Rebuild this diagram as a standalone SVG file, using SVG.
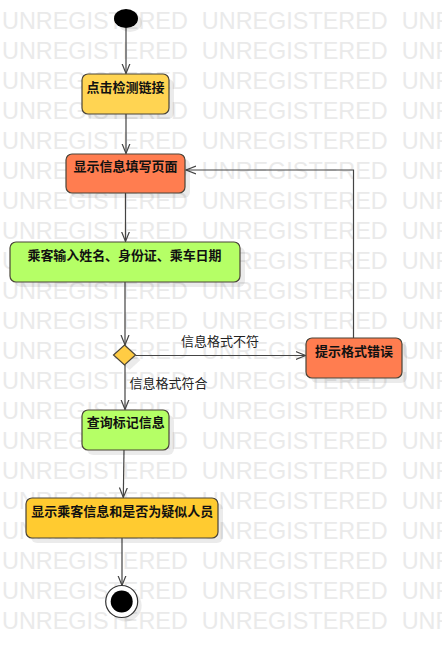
<svg xmlns="http://www.w3.org/2000/svg" width="442" height="658" viewBox="0 0 442 658">
<defs>
<style>
.wm{font-family:"Liberation Sans",Arial,sans-serif;font-size:23.4px;fill:#eaeaea;word-spacing:7.5px}
.node{stroke:#4a4438;stroke-width:1.2}
.shadow{fill:#000;opacity:0.08}
.t{font-family:"Noto Sans CJK SC","Noto Sans",sans-serif;font-size:13px;font-weight:bold;fill:#111;text-anchor:middle}
.lbl{font-family:"Noto Sans CJK SC","Noto Sans",sans-serif;font-size:13px;fill:#222;text-anchor:middle}
.c{fill:none;stroke:#444;stroke-width:1.2}
</style>
<marker id="arr" markerUnits="userSpaceOnUse" markerWidth="12" markerHeight="10" refX="10" refY="4.5" orient="auto">
<path d="M0,0.5 L10,4.5 L0,8.5" fill="none" stroke="#444" stroke-width="1.2"/>
</marker>
</defs>
<rect width="442" height="658" fill="#fff"/>
<g id="watermark">
<text class="wm" x="2" y="29">UNREGISTERED UNREGISTERED UNREGISTERED</text>
<text class="wm" x="2" y="59">UNREGISTERED UNREGISTERED UNREGISTERED</text>
<text class="wm" x="2" y="89">UNREGISTERED UNREGISTERED UNREGISTERED</text>
<text class="wm" x="2" y="119">UNREGISTERED UNREGISTERED UNREGISTERED</text>
<text class="wm" x="2" y="149">UNREGISTERED UNREGISTERED UNREGISTERED</text>
<text class="wm" x="2" y="179">UNREGISTERED UNREGISTERED UNREGISTERED</text>
<text class="wm" x="2" y="209">UNREGISTERED UNREGISTERED UNREGISTERED</text>
<text class="wm" x="2" y="239">UNREGISTERED UNREGISTERED UNREGISTERED</text>
<text class="wm" x="2" y="269">UNREGISTERED UNREGISTERED UNREGISTERED</text>
<text class="wm" x="2" y="299">UNREGISTERED UNREGISTERED UNREGISTERED</text>
<text class="wm" x="2" y="329">UNREGISTERED UNREGISTERED UNREGISTERED</text>
<text class="wm" x="2" y="359">UNREGISTERED UNREGISTERED UNREGISTERED</text>
<text class="wm" x="2" y="389">UNREGISTERED UNREGISTERED UNREGISTERED</text>
<text class="wm" x="2" y="419">UNREGISTERED UNREGISTERED UNREGISTERED</text>
<text class="wm" x="2" y="449">UNREGISTERED UNREGISTERED UNREGISTERED</text>
<text class="wm" x="2" y="479">UNREGISTERED UNREGISTERED UNREGISTERED</text>
<text class="wm" x="2" y="509">UNREGISTERED UNREGISTERED UNREGISTERED</text>
<text class="wm" x="2" y="539">UNREGISTERED UNREGISTERED UNREGISTERED</text>
<text class="wm" x="2" y="569">UNREGISTERED UNREGISTERED UNREGISTERED</text>
<text class="wm" x="2" y="599">UNREGISTERED UNREGISTERED UNREGISTERED</text>
<text class="wm" x="2" y="629">UNREGISTERED UNREGISTERED UNREGISTERED</text>
</g>
<g id="connectors">
<line class="c" x1="126" y1="28" x2="126" y2="73.5" marker-end="url(#arr)"/>
<line class="c" x1="126" y1="114" x2="126" y2="153.5" marker-end="url(#arr)"/>
<line class="c" x1="125.5" y1="193" x2="125.5" y2="241.5" marker-end="url(#arr)"/>
<line class="c" x1="125" y1="282" x2="125" y2="345" marker-end="url(#arr)"/>
<line class="c" x1="135.5" y1="355.5" x2="305.5" y2="355.5" marker-end="url(#arr)"/>
<polyline class="c" points="353.5,338 353.5,170 186,170" marker-end="url(#arr)"/>
<line class="c" x1="125" y1="365" x2="125" y2="409.5" marker-end="url(#arr)"/>
<line class="c" x1="124" y1="450" x2="123.3" y2="497.5" marker-end="url(#arr)"/>
<line class="c" x1="122" y1="538" x2="122" y2="585.5" marker-end="url(#arr)"/>
<text class="lbl" x="220" y="345.5">信息格式不符</text>
<text class="lbl" x="168.5" y="388">信息格式符合</text>
</g>
<g id="start">
<ellipse class="shadow" cx="130" cy="22.5" rx="12" ry="9.5"/>
<ellipse cx="126" cy="18.5" rx="12" ry="9.5" fill="#000"/>
</g>
<g id="n1">
<rect class="shadow" x="87" y="79" width="87" height="40" rx="6"/>
<rect class="node" x="82" y="74" width="87" height="40" rx="6" fill="#ffd452"/>
<text class="t" x="125.5" y="92">点击检测链接</text>
</g>
<g id="n2">
<rect class="shadow" x="71" y="159" width="119" height="39" rx="6"/>
<rect class="node" x="66" y="154" width="119" height="39" rx="6" fill="#ff7d50"/>
<text class="t" x="125.5" y="171">显示信息填写页面</text>
</g>
<g id="n3">
<rect class="shadow" x="15" y="247" width="230" height="40" rx="6"/>
<rect class="node" x="10" y="242" width="230" height="40" rx="6" fill="#b5ff66"/>
<text class="t" x="124.5" y="260" textLength="194" lengthAdjust="spacing">乘客输入姓名、身份证、乘车日期</text>
</g>
<g id="decision">
<polygon class="shadow" points="129.5,350 140.5,360 129.5,370 118.5,360"/>
<polygon class="node" points="124.5,345 135.5,355 124.5,365 113.5,355" fill="#ffcc44"/>
</g>
<g id="n4">
<rect class="shadow" x="311" y="343" width="96" height="40" rx="6"/>
<rect class="node" x="306" y="338" width="96" height="40" rx="6" fill="#ff7d50"/>
<text class="t" x="354" y="356">提示格式错误</text>
</g>
<g id="n5">
<rect class="shadow" x="87" y="415" width="87" height="40" rx="6"/>
<rect class="node" x="82" y="410" width="87" height="40" rx="6" fill="#b5ff66"/>
<text class="t" x="125.7" y="427">查询标记信息</text>
</g>
<g id="n6">
<rect class="shadow" x="31" y="503" width="192" height="40" rx="6"/>
<rect class="node" x="26" y="498" width="192" height="40" rx="6" fill="#ffcb30"/>
<text class="t" x="122.2" y="515.5">显示乘客信息和是否为疑似人员</text>
</g>
<g id="end">
<circle class="shadow" cx="125.7" cy="605.5" r="16"/>
<circle cx="121.7" cy="601.5" r="16" fill="#fff" stroke="#333" stroke-width="1.2"/>
<circle cx="121.7" cy="601.5" r="11" fill="#000"/>
</g>
</svg>
